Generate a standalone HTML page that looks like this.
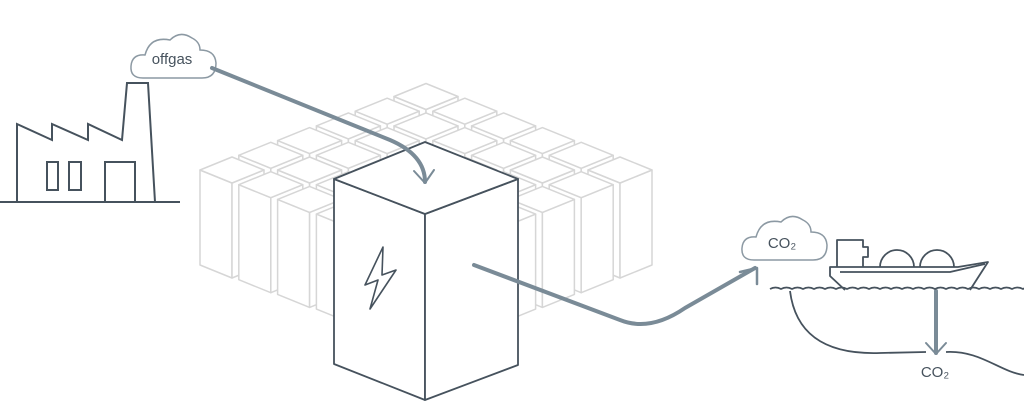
<!DOCTYPE html>
<html><head><meta charset="utf-8"><style>html,body{margin:0;padding:0;background:#fff}svg{display:block}</style></head>
<body>
<svg width="1024" height="419" viewBox="0 0 1024 419" xmlns="http://www.w3.org/2000/svg" xmlns:xlink="http://www.w3.org/1999/xlink">
<defs>
<g id="b" fill="#fff" stroke="#d6d6d6" stroke-width="1.5" stroke-linejoin="round">
<polygon points="0,0 32,13 32,108 0,95"/>
<polygon points="32,13 64,0 64,95 32,108"/>
<polygon points="0,0 32,-13 64,0 32,13"/>
</g>
</defs>
<!-- d=-5 y=96.5 -->
<use xlink:href="#b" href="#b" x="394" y="96.5"/>
<!-- d=-4 y=111.2 -->
<use xlink:href="#b" href="#b" x="355.2" y="111.2"/>
<use xlink:href="#b" href="#b" x="432.8" y="111.2"/>
<!-- d=-3 y=125.9 -->
<use xlink:href="#b" href="#b" x="316.4" y="125.9"/>
<use xlink:href="#b" href="#b" x="394" y="125.9"/>
<use xlink:href="#b" href="#b" x="471.6" y="125.9"/>
<!-- d=-2 y=140.6 -->
<use xlink:href="#b" href="#b" x="277.6" y="140.6"/>
<use xlink:href="#b" href="#b" x="355.2" y="140.6"/>
<use xlink:href="#b" href="#b" x="432.8" y="140.6"/>
<use xlink:href="#b" href="#b" x="510.4" y="140.6"/>
<!-- d=-1 y=155.3 -->
<use xlink:href="#b" href="#b" x="238.8" y="155.3"/>
<use xlink:href="#b" href="#b" x="316.4" y="155.3"/>
<use xlink:href="#b" href="#b" x="394" y="155.3"/>
<use xlink:href="#b" href="#b" x="471.6" y="155.3"/>
<use xlink:href="#b" href="#b" x="549.2" y="155.3"/>
<!-- d=0 y=170 -->
<use xlink:href="#b" href="#b" x="200" y="170"/>
<use xlink:href="#b" href="#b" x="277.6" y="170"/>
<use xlink:href="#b" href="#b" x="355.2" y="170"/>
<use xlink:href="#b" href="#b" x="432.8" y="170"/>
<use xlink:href="#b" href="#b" x="510.4" y="170"/>
<use xlink:href="#b" href="#b" x="588" y="170"/>
<!-- d=1 y=184.7 -->
<use xlink:href="#b" href="#b" x="238.8" y="184.7"/>
<use xlink:href="#b" href="#b" x="316.4" y="184.7"/>
<use xlink:href="#b" href="#b" x="394" y="184.7"/>
<use xlink:href="#b" href="#b" x="471.6" y="184.7"/>
<use xlink:href="#b" href="#b" x="549.2" y="184.7"/>
<!-- d=2 y=199.4 -->
<use xlink:href="#b" href="#b" x="277.6" y="199.4"/>
<use xlink:href="#b" href="#b" x="355.2" y="199.4"/>
<use xlink:href="#b" href="#b" x="432.8" y="199.4"/>
<use xlink:href="#b" href="#b" x="510.4" y="199.4"/>
<!-- d=3 y=214.1 -->
<use xlink:href="#b" href="#b" x="316.4" y="214.1"/>
<use xlink:href="#b" href="#b" x="394" y="214.1"/>
<use xlink:href="#b" href="#b" x="471.6" y="214.1"/>
<!-- d=4 y=228.8 -->
<use xlink:href="#b" href="#b" x="355.2" y="228.8"/>
<use xlink:href="#b" href="#b" x="432.8" y="228.8"/>
<!-- d=5 -->
<use xlink:href="#b" href="#b" x="394" y="243.5"/>

<g fill="none" stroke="#46525d" stroke-width="2" stroke-linejoin="miter">
<line x1="0" y1="202" x2="180" y2="202"/>
<path d="M17,202 V124 L52,140 V124 L88,140 V124 L122,140 L127,83 H148 L155,202"/>
<rect x="47" y="162" width="11" height="28"/>
<rect x="69" y="162" width="12" height="28"/>
<path d="M105,202 V162 H135 V202"/>
</g>
<path d="M143,78 Q130,78 131,66 Q132,54 145,55 Q150,36 170,40 Q180,30 192,38 Q200,42 200,50 Q215,50 216,63 Q216,78 202,78 Z" fill="#fff" stroke="#8c99a3" stroke-width="1.5"/>
<text x="172" y="64" font-family="Liberation Sans, sans-serif" font-size="15" fill="#46525d" text-anchor="middle">offgas</text>
<g transform="translate(611,182)">
<path d="M143,78 Q130,78 131,66 Q132,54 145,55 Q150,36 170,40 Q180,30 192,38 Q200,42 200,50 Q215,50 216,63 Q216,78 202,78 Z" fill="#fff" stroke="#8c99a3" stroke-width="1.5"/>
</g>
<text x="782" y="248" font-family="Liberation Sans, sans-serif" font-size="15" fill="#46525d" text-anchor="middle">CO₂</text>
<g fill="#fff" stroke="#46525d" stroke-width="1.8" stroke-linejoin="round">
<polygon points="334,179 425,214 425,400 334,364"/>
<polygon points="425,214 518,179 518,365 425,400"/>
<polygon points="334,179 425,142 518,179 425,214"/>
</g>
<polygon points="383,247 365,285 378,280 370,309 396,270 382,275" fill="none" stroke="#46525d" stroke-width="1.6" stroke-linejoin="round"/>
<g fill="none" stroke="#7a8b97" stroke-width="4" stroke-linecap="round" stroke-linejoin="round">
<path d="M212,68 L390,140 Q425,155 425,182"/>
<path d="M414,171 L425,183 L434,170" stroke-width="2"/>
<path d="M474,265 L620,320 Q650,332 685,308 L755,268"/>
<path d="M740,272 L757,268 L757,284" stroke-width="2.5"/>
<path d="M936,291 V353"/>
<path d="M926,343 L936,354 L946,343" stroke-width="2"/>
</g>
<g fill="none" stroke="#46525d" stroke-width="1.8" stroke-linejoin="round">
<path d="M770,289 q5.5,-3 11,0 q5.5,-3 11,0 q5.5,-3 11,0 q5.5,-3 11,0 q5.5,-3 11,0 q5.5,-3 11,0 q5.5,-3 11,0 q5.5,-3 11,0 q5.5,-3 11,0 q5.5,-3 11,0 q5.5,-3 11,0 q5.5,-3 11,0 q5.5,-3 11,0 q5.5,-3 11,0 q5.5,-3 11,0 q5.5,-3 11,0 q5.5,-3 11,0 q5.5,-3 11,0 q5.5,-3 11,0 q5.5,-3 11,0 q5.5,-3 11,0 q5.5,-3 11,0 q5.5,-3 11,0 q5.5,-3 11,0"/>
<path d="M790,291 C795,330 820,355 880,353 L926,352 M946,352 C980,350 1000,372 1024,375"/>
<path d="M845,290 L830,276 V267 H958 L988,262 L970,290"/>
<path d="M840,272 H950 L985,264"/>
<path d="M837,267 V240 H863 V247 H868 V257 H863 V267"/>
<path d="M880,267 A17,17 0 0 1 914,267 M920,267 A17,17 0 0 1 954,267"/>
</g>
<text x="935" y="377" font-family="Liberation Sans, sans-serif" font-size="15" fill="#46525d" text-anchor="middle">CO₂</text>
</svg>
</body></html>
